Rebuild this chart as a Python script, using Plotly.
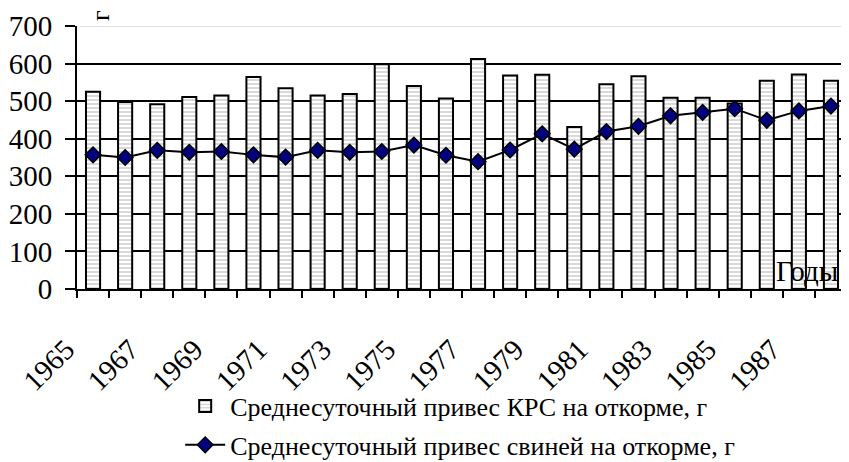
import plotly.graph_objects as go

years = list(range(1965, 1989))
cattle_gain = [525, 498, 492, 511, 515, 564, 534, 515, 519, 598, 540, 507,
               612, 568, 570, 431, 545, 566, 509, 509, 494, 554, 571, 554]
pig_gain = [357, 350, 369, 364, 366, 357, 351, 369, 364, 366, 383, 356,
            339, 370, 413, 372, 419, 433, 461, 470, 480, 449, 474, 487]
label_years = years[::2]

cattle_name = "Среднесуточный привес КРС на откорме, г"
pig_name = "Среднесуточный привес свиней на откорме, г"

SERIF = "serif"

fig = go.Figure()
fig.add_trace(go.Bar(
    x=years, y=cattle_gain, name=cattle_name, legendgroup="cattle",
    marker=dict(
        color="white",
        line=dict(color="black", width=2),
        pattern=dict(shape="-", fgcolor="#a0a0a0", bgcolor="white", size=4, solidity=0.4),
    ),
))
fig.add_trace(go.Scatter(
    x=years, y=pig_gain, name=pig_name, legendgroup="pigs", mode="lines+markers",
    line=dict(color="black", width=2),
    marker=dict(symbol="diamond", size=12, color="#000080", line=dict(color="black", width=1.5)),
))

fig.update_layout(
    width=841, height=454,
    margin=dict(l=69, r=2, t=18, b=173, autoexpand=False),
    paper_bgcolor="white", plot_bgcolor="white",
    font=dict(family=SERIF, color="black", size=26),
    bargap=0.56,
    showlegend=True,
    legend=dict(
        orientation="v", x=0.134, y=-0.356, xanchor="left", yanchor="top",
        font=dict(family=SERIF, size=26), bgcolor="rgba(0,0,0,0)", itemwidth=40,
        traceorder="grouped", tracegroupgap=2,
    ),
    xaxis=dict(
        range=[1964.5, 1988.5], tickmode="array", tickvals=label_years,
        ticktext=[str(y) for y in label_years], tickangle=-45,
        ticks="", showgrid=False, zeroline=False, automargin=False,
        showline=True, linecolor="black", linewidth=2,
        tickfont=dict(family=SERIF, size=29), ticklabelstandoff=30, ticklabelshift=-27,
        minor=dict(ticks="outside", ticklen=7, tickwidth=2, tickcolor="black",
                   tick0=1964.5, dtick=1, showgrid=False),
    ),
    yaxis=dict(
        range=[0, 700], tickmode="linear", tick0=0, dtick=100,
        ticks="outside", ticklen=10, tickwidth=2, tickcolor="black",
        showgrid=True, gridcolor="black", gridwidth=2, zeroline=False, automargin=False,
        showline=True, linecolor="black", linewidth=2,
        tickfont=dict(family=SERIF, size=29), ticklabelstandoff=7,
    ),
    shapes=[
        dict(type="line", xref="paper", yref="y", x0=0.003, x1=1, y0=700, y1=700,
             line=dict(color="white", width=4), layer="above"),
        dict(type="line", xref="paper", yref="y", x0=0.003, x1=1, y0=700, y1=700,
             line=dict(color="#c0c0c0", width=1), layer="above"),
    ],
    annotations=[
        dict(text="Годы", xref="paper", yref="paper", x=0.991, y=0.0,
             xanchor="right", yanchor="bottom", showarrow=False,
             font=dict(family=SERIF, size=29)),
        dict(text="г", xref="paper", yref="paper", x=0.03, y=1.038,
             xanchor="center", yanchor="middle", showarrow=False, textangle=-90,
             font=dict(family=SERIF, size=26)),
    ],
)

fig.write_html("out.html")
